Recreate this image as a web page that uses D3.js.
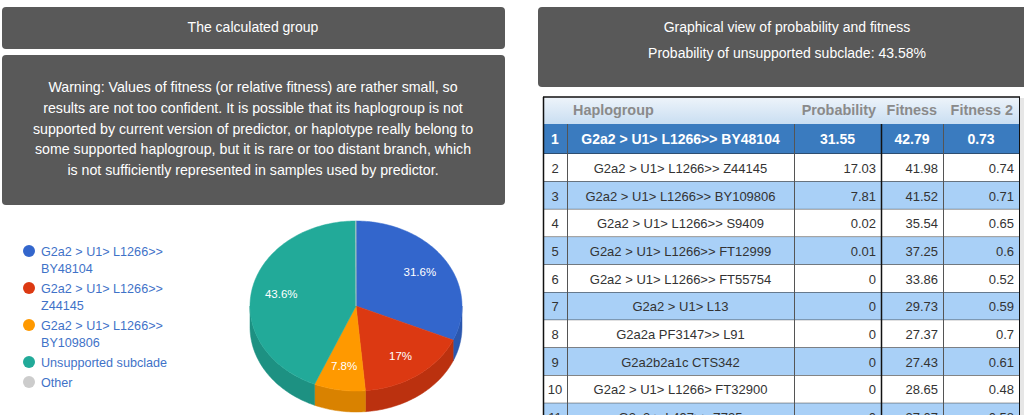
<!DOCTYPE html>
<html>
<head>
<meta charset="UTF-8"/>
<script src="https://d3js.org/d3.v7.min.js"></script>
<style>
  body { margin: 0; background: #fff; }
  text { font-family: Arial, "Liberation Sans", sans-serif; }
</style>
</head>
<body>
<script>
// pie data
const pieLabels = ["G2a2 > U1> L1266>> BY48104", "G2a2 > U1> L1266>> Z44145", "G2a2 > U1> L1266>> BY109806", "Unsupported subclade", "Other"];
const legendLines = [["G2a2 > U1> L1266>>", "BY48104"], ["G2a2 > U1> L1266>>", "Z44145"], ["G2a2 > U1> L1266>>", "BY109806"], ["Unsupported subclade"], ["Other"]];
const pieValues = [31.55, 17.03, 7.81, 43.58, 0.03];
const pieColors = ["#3366cc", "#dc3912", "#ff9900", "#22aa99", "#cccccc"];

// table data
const tableHeaders = ["", "Haplogroup", "Probability", "Fitness", "Fitness 2"];
const haplogroups = ["G2a2 > U1> L1266>> BY48104", "G2a2 > U1> L1266>> Z44145", "G2a2 > U1> L1266>> BY109806",
  "G2a2 > U1> L1266>> S9409", "G2a2 > U1> L1266>> FT12999", "G2a2 > U1> L1266>> FT55754", "G2a2 > U1> L13",
  "G2a2a PF3147>> L91", "G2a2b2a1c CTS342", "G2a2 > U1> L1266> FT32900", "G2a2 > L497>> Z725"];
const probability = [31.55, 17.03, 7.81, 0.02, 0.01, 0, 0, 0, 0, 0, 0];
const fitness = [42.79, 41.98, 41.52, 35.54, 37.25, 33.86, 29.73, 27.37, 27.43, 28.65, 27.07];
const fitness2 = [0.73, 0.74, 0.71, 0.65, 0.6, 0.52, 0.59, 0.7, 0.61, 0.48, 0.58];

const warningLines = [
  "Warning: Values of fitness (or relative fitness) are rather small, so",
  "results are not too confident. It is possible that its haplogroup is not",
  "supported by current version of predictor, or haplotype really belong to",
  "some supported haplogroup, but it is rare or too distant branch, which",
  "is not sufficiently represented in samples used by predictor."
];

const width = 1024, height = 415;
const svg = d3.select("body").append("svg")
  .attr("width", width).attr("height", height);

const boxFill = "#595959";

// left headers
svg.append("rect").attr("x", 2).attr("y", 7).attr("width", 503).attr("height", 42)
  .attr("rx", 4).attr("fill", boxFill);
svg.append("text").attr("x", 253).attr("y", 32).attr("text-anchor", "middle")
  .attr("fill", "#fff").attr("font-size", 14).text("The calculated group");

svg.append("rect").attr("x", 2).attr("y", 55).attr("width", 503).attr("height", 150)
  .attr("rx", 4).attr("fill", boxFill);
svg.append("g").selectAll("text").data(warningLines).join("text")
  .attr("x", 253).attr("y", (d, i) => 92 + i * 20.8)
  .attr("text-anchor", "middle").attr("fill", "#fff").attr("font-size", 14.2)
  .text(d => d);

// right header
svg.append("rect").attr("x", 538).attr("y", 7).attr("width", 500).attr("height", 80)
  .attr("rx", 4).attr("fill", boxFill);
svg.append("text").attr("x", 787).attr("y", 32).attr("text-anchor", "middle")
  .attr("fill", "#fff").attr("font-size", 14).text("Graphical view of probability and fitness");
svg.append("text").attr("x", 787).attr("y", 58).attr("text-anchor", "middle")
  .attr("fill", "#fff").attr("font-size", 14).text("Probability of unsupported subclade: 43.58%");

// legend
const legend = svg.append("g");
let ly = 251;
legendLines.forEach((lines, i) => {
  const g = legend.append("g");
  g.append("circle").attr("cx", 29).attr("cy", ly).attr("r", 6).attr("fill", pieColors[i]);
  lines.forEach((t, j) => {
    g.append("text").attr("x", 41).attr("y", ly + 4.5 + j * 17.3)
      .attr("fill", "#3f72c8").attr("font-size", 12.6).text(t);
  });
  ly += lines.length === 2 ? 37 : 20;
});

// 3d pie
const cx = 356, cy = 306, rx = 106, ry = 85, depth = 21;
const pie = d3.pie().sort(null).value(d => d)(pieValues);
const px = a => cx + rx * Math.sin(a);
const py = a => cy - ry * Math.cos(a);
const darker = c => d3.color(c).darker(0.45).formatHex();

function arcPts(a0, a1, dy) {
  const n = Math.max(2, Math.ceil((a1 - a0) / 0.02));
  return d3.range(n + 1).map(k => {
    const a = a0 + (a1 - a0) * k / n;
    return [px(a), py(a) + dy];
  });
}

const sides = svg.append("g");
pie.forEach((d, i) => {
  // front half of the ellipse is between PI/2 and 3PI/2
  const a0 = Math.max(d.startAngle, Math.PI / 2);
  const a1 = Math.min(d.endAngle, 3 * Math.PI / 2);
  if (a1 <= a0) return;
  const top = arcPts(a0, a1, 0);
  const bot = arcPts(a0, a1, depth).reverse();
  sides.append("path").attr("d", d3.line()(top.concat(bot)) + "Z")
    .attr("fill", darker(pieColors[i])).attr("stroke", darker(pieColors[i])).attr("stroke-width", 0.5);
});

const tops = svg.append("g");
pie.forEach((d, i) => {
  if (d.endAngle - d.startAngle < 1e-4) return;
  const pts = [[cx, cy]].concat(arcPts(d.startAngle, d.endAngle, 0));
  tops.append("path").attr("d", d3.line()(pts) + "Z")
    .attr("fill", pieColors[i]).attr("stroke", pieColors[i]).attr("stroke-width", 0.5);
});

const labels = svg.append("g");
pie.forEach((d, i) => {
  const p = (d.endAngle - d.startAngle) / (2 * Math.PI);
  if (p < 0.05) return;
  const m = (d.startAngle + d.endAngle) / 2;
  const k = 0.72;
  labels.append("text")
    .attr("x", cx + rx * k * Math.sin(m)).attr("y", cy - ry * k * Math.cos(m) + 4)
    .attr("text-anchor", "middle").attr("fill", "#fff").attr("font-size", 11.5)
    .text(d3.format(".1~f")(p * 100) + "%");
});

// table
const colEdges = [543, 567, 794, 881, 943, 1019];
const headTop = 97, headH = 27, firstH = 30, rowH = 27.7;
const rowY = d3.scaleLinear().domain([1, 2]).range([headTop + headH + firstH, headTop + headH + firstH + rowH]);
const tbl = svg.append("g");

const defs = svg.append("defs");
const grad = defs.append("linearGradient").attr("id", "hg").attr("x1", 0).attr("y1", 0).attr("x2", 0).attr("y2", 1);
grad.append("stop").attr("offset", "0%").attr("stop-color", "#eef4fa");
grad.append("stop").attr("offset", "100%").attr("stop-color", "#c9def2");

tbl.append("rect").attr("x", colEdges[0]).attr("y", headTop)
  .attr("width", colEdges[5] - colEdges[0]).attr("height", headH).attr("fill", "url(#hg)");
const headX = [0, 573, 876, 937, 1013];
tableHeaders.forEach((h, j) => {
  if (!h) return;
  tbl.append("text").attr("x", headX[j]).attr("y", headTop + 18)
    .attr("text-anchor", j === 1 ? "start" : "end")
    .attr("fill", "#8a8a8a").attr("font-weight", "bold").attr("font-size", 14.4).text(h);
});

haplogroups.forEach((hg, i) => {
  const y0 = i === 0 ? headTop + headH : rowY(i);
  const h = i === 0 ? firstH : rowH;
  const fill = i === 0 ? "#3a7bbf" : (i % 2 === 0 ? "#a9d0f7" : "#ffffff");
  tbl.append("rect").attr("x", colEdges[0]).attr("y", y0)
    .attr("width", colEdges[5] - colEdges[0]).attr("height", h).attr("fill", fill);
  tbl.append("line").attr("x1", colEdges[0]).attr("x2", colEdges[5])
    .attr("y1", y0 + h).attr("y2", y0 + h).attr("stroke", "#222").attr("stroke-width", 1);
  const cells = [String(i + 1), hg, String(probability[i]), String(fitness[i]), String(fitness2[i])];
  cells.forEach((c, j) => {
    const t = tbl.append("text").attr("y", y0 + h / 2 + 5).text(c);
    if (i === 0) {
      t.attr("x", j === 0 ? 555 : (colEdges[j] + colEdges[j + 1]) / 2)
        .attr("text-anchor", "middle").attr("fill", "#fff")
        .attr("font-weight", "bold").attr("font-size", 14);
    } else {
      const anchor = j === 0 || j === 1 ? "middle" : "end";
      const x = j === 0 ? 555 : j === 1 ? (colEdges[1] + colEdges[2]) / 2 : colEdges[j + 1] - 5;
      t.attr("x", x).attr("text-anchor", anchor).attr("fill", "#333").attr("font-size", 13);
    }
  });
});

// column lines
const bodyTop = headTop + headH;
[1, 2, 3, 4].forEach(j => {
  tbl.append("line").attr("x1", colEdges[j] + 0.5).attr("x2", colEdges[j] + 0.5)
    .attr("y1", bodyTop).attr("y2", height)
    .attr("stroke", j === 3 ? "#111" : "#555").attr("stroke-width", j === 3 ? 1.5 : 1);
});
tbl.append("line").attr("x1", colEdges[0] + 0.5).attr("x2", colEdges[0] + 0.5)
  .attr("y1", headTop).attr("y2", height).attr("stroke", "#111").attr("stroke-width", 1.5);
tbl.append("line").attr("x1", colEdges[0]).attr("x2", colEdges[5] + 1)
  .attr("y1", headTop).attr("y2", headTop).attr("stroke", "#111").attr("stroke-width", 1.5);
tbl.append("line").attr("x1", colEdges[5] + 0.5).attr("x2", colEdges[5] + 0.5)
  .attr("y1", headTop).attr("y2", height).attr("stroke", "#111").attr("stroke-width", 1);
// scrollbar
tbl.append("rect").attr("x", colEdges[5] + 1).attr("y", headTop + 1)
  .attr("width", 5).attr("height", height - headTop).attr("fill", "#e6e6e6");
</script>
</body>
</html>
